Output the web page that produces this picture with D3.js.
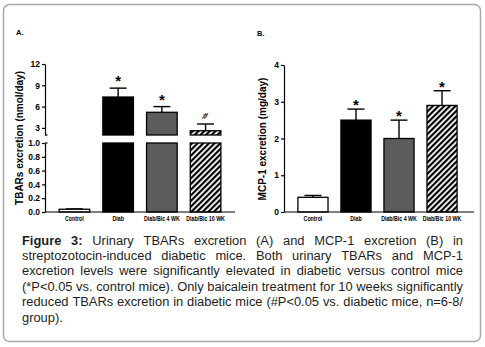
<!DOCTYPE html>
<html>
  <head>
    <title>TBARs and MCP-1</title>
    <script src="https://d3js.org/d3.v7.min.js"></script>
  </head>
  <body style="margin: 0; background-color: #ffffff;">
    <svg width="485" height="347" id="mainsvg"></svg>
    <script>
        // data
        const groups = ['Control', 'Diab', 'Diab/Bic 4 WK', 'Diab/Bic 10 WK'];
        const tbarsMean = [0.04, 7.35, 5.2, 2.6];
        const tbarsSem = [0.005, 1.25, 0.8, 0.95];
        const tbarsMarks = ['', '*', '*', '#'];
        const tbarsTicksUpper = [3, 6, 9, 12];
        const tbarsTicksLower = [0, 0.2, 0.4, 0.6, 0.8, 1.0];
        const mcpMean = [0.4, 2.5, 2.0, 2.9];
        const mcpSem = [0.05, 0.3, 0.5, 0.4];
        const mcpMarks = ['', '*', '*', '*'];
        const mcpTicks = [0, 1, 2, 3, 4];
        const captionLines = [
            'Figure 3: Urinary TBARs excretion (A) and MCP-1 excretion (B) in',
            'streptozotocin-induced diabetic mice. Both urinary TBARs and MCP-1',
            'excretion levels were significantly elevated in diabetic versus control mice',
            '(*P<0.05 vs. control mice). Only baicalein treatment for 10 weeks significantly',
            'reduced TBARs excretion in diabetic mice (#P<0.05 vs. diabetic mice, n=6-8/',
            'group).'
        ];

        const fills = ['#ffffff', '#000000', '#5c5c5c', 'url(#hatch)'];
        const font = 'Arial, "Liberation Sans", sans-serif';

        const svg = d3.select('#mainsvg');

        // hatch pattern for the 10 WK bar
        const pat = svg.append('defs').append('pattern')
            .attr('id', 'hatch')
            .attr('patternUnits', 'userSpaceOnUse')
            .attr('width', 4).attr('height', 4)
            .attr('patternTransform', 'rotate(45)');
        pat.append('rect').attr('width', 4).attr('height', 4).attr('fill', '#ffffff');
        pat.append('rect').attr('width', 2.2).attr('height', 4).attr('fill', '#000000');

        // rounded frame
        svg.append('rect')
            .attr('x', 3.5).attr('y', 4.5)
            .attr('width', 477).attr('height', 337)
            .attr('rx', 6)
            .attr('fill', '#ffffff')
            .attr('stroke', '#a8a8a8')
            .attr('stroke-width', 1.5);

        const styleAxis = function(gAxis){
            gAxis.selectAll('text')
                .attr('font-family', font)
                .attr('font-weight', 'bold')
                .attr('font-size', 8.5)
                .attr('fill', '#000');
            gAxis.selectAll('line, path').attr('stroke', '#000').attr('stroke-width', 1.2);
        };

        // category labels are set in a narrow face in the original
        const styleXAxis = function(gAxis){
            styleAxis(gAxis);
            gAxis.selectAll('text')
                .attr('font-size', 6.6)
                .attr('dy', '0.75em')
                .attr('transform', 'scale(0.8,1)');
        };

        const errorBar = function(g, cx, yFrom, yTo){
            g.append('line').attr('x1', cx).attr('x2', cx)
                .attr('y1', yFrom).attr('y2', yTo)
                .attr('stroke', '#000').attr('stroke-width', 1.4);
            g.append('line').attr('x1', cx - 8.5).attr('x2', cx + 8.5)
                .attr('y1', yTo).attr('y2', yTo)
                .attr('stroke', '#000').attr('stroke-width', 1.4);
        };

        // ---------- Panel A: TBARs with broken axis ----------
        (function(){
            const g = svg.append('g');
            const x = d3.scaleBand().domain(groups).range([46, 234]).padding(0.3);
            const yLower = d3.scaleLinear().domain([0, 1]).range([212, 143]);
            const yUpper = d3.scaleLinear().domain([2, 12]).range([135, 64]);
            const yVal = v => v > 2 ? yUpper(v) : yLower(Math.min(v, 1));

            groups.forEach((name, i) => {
                const v = tbarsMean[i];
                const bx = x(name), bw = x.bandwidth();
                const cx = bx + bw / 2;
                const eTop = yVal(v + tbarsSem[i]);
                errorBar(g, cx, yVal(v), eTop);
                // lower piece
                g.append('rect')
                    .attr('x', bx).attr('y', yLower(Math.min(v, 1)))
                    .attr('width', bw).attr('height', yLower(0) - yLower(Math.min(v, 1)))
                    .attr('fill', fills[i]).attr('stroke', '#000').attr('stroke-width', 1.3);
                // upper piece
                if (v > 2) {
                    g.append('rect')
                        .attr('x', bx).attr('y', yUpper(v))
                        .attr('width', bw).attr('height', yUpper(2) - yUpper(v))
                        .attr('fill', fills[i]).attr('stroke', '#000').attr('stroke-width', 1.3);
                }
                if (tbarsMarks[i]) {
                    const isHash = tbarsMarks[i] === '#';
                    g.append('text')
                        .attr('x', cx).attr('y', eTop - (isHash ? 5 : 2))
                        .attr('text-anchor', 'middle')
                        .attr('font-family', font).attr('font-weight', 'bold')
                        .attr('font-size', isHash ? 9 : 15)
                        .attr('transform', isHash ? 'skewX(-20)' : null)
                        .attr('transform-origin', isHash ? `${cx} ${eTop - 9}` : null)
                        .text(tbarsMarks[i]);
                }
            });

            const axU = g.append('g').attr('transform', 'translate(45,0)')
                .call(d3.axisLeft(yUpper).tickValues(tbarsTicksUpper).tickSize(3).tickSizeOuter(0).tickPadding(2));
            const axL = g.append('g').attr('transform', 'translate(45,0)')
                .call(d3.axisLeft(yLower).tickValues(tbarsTicksLower).tickSize(3).tickSizeOuter(0).tickPadding(2)
                    .tickFormat(d3.format('.1f')));
            styleAxis(axU); styleAxis(axL);
            // break hooks
            g.append('line').attr('x1', 45).attr('x2', 47.5).attr('y1', 135).attr('y2', 135)
                .attr('stroke', '#000').attr('stroke-width', 1.2);
            g.append('line').attr('x1', 45).attr('x2', 47.5).attr('y1', 143).attr('y2', 143)
                .attr('stroke', '#000').attr('stroke-width', 1.2);

            const axX = g.append('g').attr('transform', 'translate(0,212)')
                .call(d3.axisBottom(x).tickSize(0).tickPadding(4));
            axX.select('.domain').attr('d', 'M45,0H235');
            styleXAxis(axX);

            g.append('text')
                .attr('transform', 'translate(23,138) rotate(-90)')
                .attr('text-anchor', 'middle')
                .attr('font-family', font).attr('font-weight', 'bold').attr('font-size', 10)
                .text('TBARs excretion (nmol/day)');
            g.append('text').attr('x', 16).attr('y', 35)
                .attr('font-family', font).attr('font-weight', 'bold').attr('font-size', 7.5)
                .text('A.');
        })();

        // ---------- Panel B: MCP-1 ----------
        (function(){
            const g = svg.append('g');
            const x = d3.scaleBand().domain(groups).range([285, 470]).padding(0.3);
            const y = d3.scaleLinear().domain([0, 4]).range([212, 65]);

            groups.forEach((name, i) => {
                const v = mcpMean[i];
                const bx = x(name), bw = x.bandwidth();
                const cx = bx + bw / 2;
                const eTop = y(v + mcpSem[i]);
                errorBar(g, cx, y(v), eTop);
                g.append('rect')
                    .attr('x', bx).attr('y', y(v))
                    .attr('width', bw).attr('height', y(0) - y(v))
                    .attr('fill', fills[i]).attr('stroke', '#000').attr('stroke-width', 1.3);
                if (mcpMarks[i]) {
                    g.append('text')
                        .attr('x', cx).attr('y', eTop + 1)
                        .attr('text-anchor', 'middle')
                        .attr('font-family', font).attr('font-weight', 'bold').attr('font-size', 15)
                        .text(mcpMarks[i]);
                }
            });

            const axY = g.append('g').attr('transform', 'translate(284,0)')
                .call(d3.axisLeft(y).tickValues(mcpTicks).tickSize(3).tickSizeOuter(0).tickPadding(2)
                    .tickFormat(d3.format('d')));
            styleAxis(axY);
            const axX = g.append('g').attr('transform', 'translate(0,212)')
                .call(d3.axisBottom(x).tickSize(0).tickPadding(4));
            axX.select('.domain').attr('d', 'M284,0H474');
            styleXAxis(axX);

            g.append('text')
                .attr('transform', 'translate(266,139) rotate(-90)')
                .attr('text-anchor', 'middle')
                .attr('font-family', font).attr('font-weight', 'bold').attr('font-size', 10)
                .text('MCP-1 excretion (mg/day)');
            g.append('text').attr('x', 257).attr('y', 36)
                .attr('font-family', font).attr('font-weight', 'bold').attr('font-size', 7.5)
                .text('B.');
        })();

        // ---------- Caption, justified ----------
        (function(){
            const left = 22, width = 441, base0 = 244.5, lineH = 15.4;
            const cap = svg.append('g').attr('font-family', font).attr('fill', '#1e1e1e');
            const measure = (word, bold, size) => {
                const t = cap.append('text').attr('font-size', size)
                    .attr('font-weight', bold ? 'bold' : 'normal').text(word);
                const w = t.node().getComputedTextLength();
                t.remove();
                return w;
            };
            // fit the font so the tightest line (4th) fills the width
            const probe = 12;
            const ref = captionLines[3].split(' ');
            const natural = d3.sum(ref, w => measure(w, false, probe)) + (ref.length - 1) * 0.278 * probe;
            const size = probe * width / natural;

            captionLines.forEach((line, li) => {
                const words = line.split(' ');
                const bold = words.map((w, wi) => li === 0 && wi < 2);
                const ws = words.map((w, wi) => measure(w, bold[wi], size));
                const last = li === captionLines.length - 1;
                const gap = last ? 0.278 * size : (width - d3.sum(ws)) / (words.length - 1);
                let xPos = left;
                words.forEach((w, wi) => {
                    cap.append('text')
                        .attr('x', xPos).attr('y', base0 + li * lineH)
                        .attr('font-size', size)
                        .attr('font-weight', bold[wi] ? 'bold' : 'normal')
                        .text(w);
                    xPos += ws[wi] + gap;
                });
            });
        })();
    </script>
  </body>
</html>
